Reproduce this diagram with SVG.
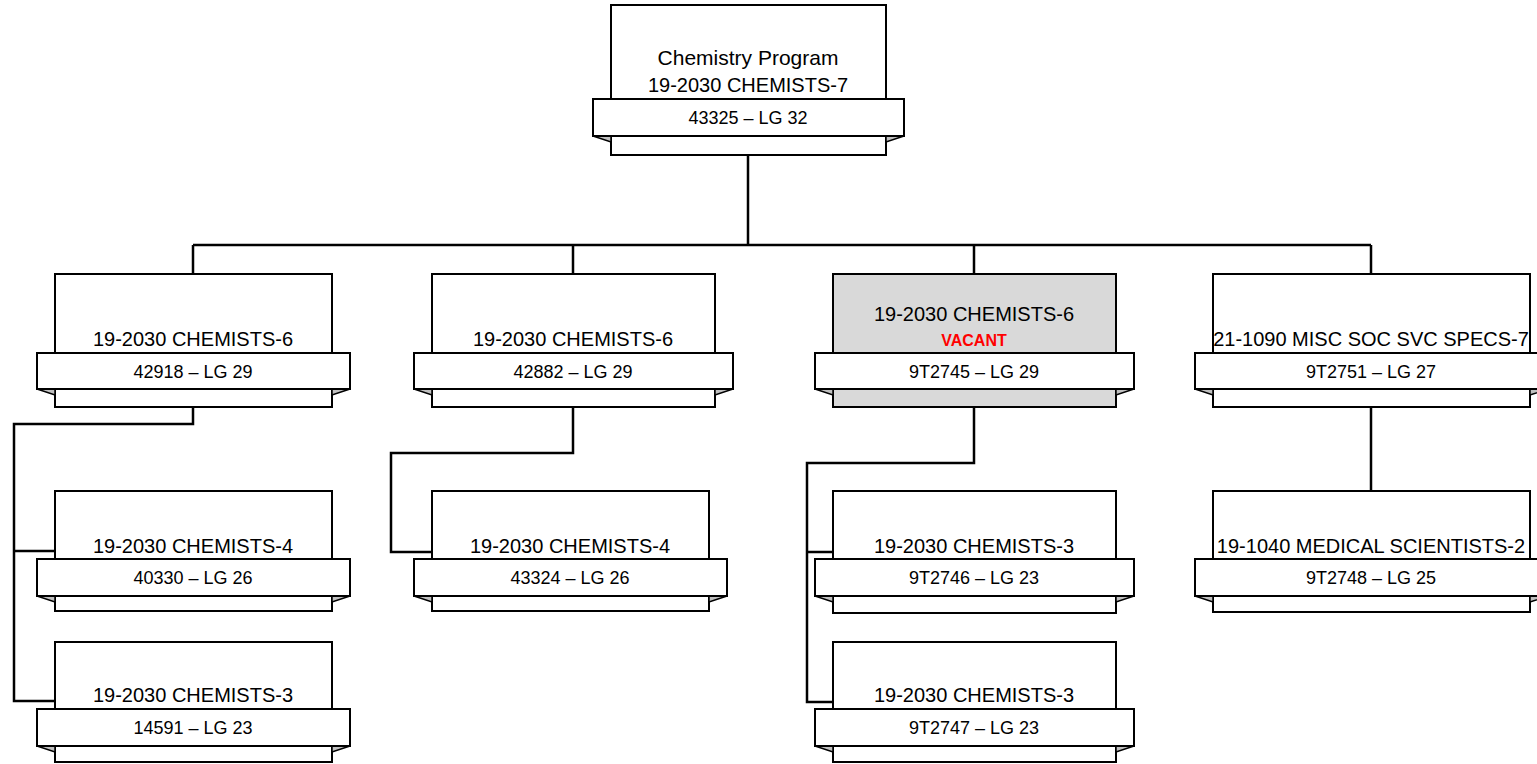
<svg xmlns="http://www.w3.org/2000/svg" width="1537" height="764" viewBox="0 0 1537 764">
<style>
.box{fill:#fff;stroke:#000;stroke-width:2}
.vac{fill:#d9d9d9;stroke:#000;stroke-width:2}
.band{fill:#fff;stroke:#000;stroke-width:2}
.fold{fill:#c0c0c0;stroke:#000;stroke-width:1.5;stroke-linejoin:miter}
.t{font-family:"Liberation Sans",Arial,sans-serif;font-size:20px;fill:#000;text-anchor:middle}
.b{font-family:"Liberation Sans",Arial,sans-serif;font-size:18px;fill:#000;text-anchor:middle}
.v{font-family:"Liberation Sans",Arial,sans-serif;font-size:16px;font-weight:bold;fill:#ff0000;text-anchor:middle}
.c{fill:none;stroke:#000;stroke-width:2.5;stroke-linejoin:miter}
</style>
<rect width="1537" height="764" fill="#fff"/>
<g id="connectors">
<path class="c" d="M748 155V245M193 245H1371M193 245V274M573 245V274M974 245V274M1371 245V274"/>
<path class="c" d="M193 407V424H14V701H55M14 551H55"/>
<path class="c" d="M573 407V453H391V552H432"/>
<path class="c" d="M974 407V463H807V702H833M807 552H833"/>
<path class="c" d="M1371 407V491"/>
</g>
<g id="n0">
<rect class="box" x="611" y="5" width="275" height="150"/>
<path class="fold" d="M593 136L611 136L611 142Z"/>
<path class="fold" d="M904 136L886 136L886 142Z"/>
<rect class="band" x="593" y="99" width="311" height="37"/>
<text class="t" x="748" y="65" style="font-size:21px">Chemistry Program</text>
<text class="t" x="748" y="92">19-2030 CHEMISTS-7</text>
<text class="b" x="748" y="124">43325 – LG 32</text>
</g>
<g id="n1">
<rect class="box" x="55" y="274" width="277" height="133"/>
<path class="fold" d="M37 389L55 389L55 395Z"/>
<path class="fold" d="M350 389L332 389L332 395Z"/>
<rect class="band" x="37" y="353" width="313" height="36"/>
<text class="t" x="193" y="346">19-2030 CHEMISTS-6</text>
<text class="b" x="193" y="378">42918 – LG 29</text>
</g>
<g id="n2">
<rect class="box" x="432" y="274" width="283" height="133"/>
<path class="fold" d="M414 389L432 389L432 395Z"/>
<path class="fold" d="M733 389L715 389L715 395Z"/>
<rect class="band" x="414" y="353" width="319" height="36"/>
<text class="t" x="573" y="346">19-2030 CHEMISTS-6</text>
<text class="b" x="573" y="378">42882 – LG 29</text>
</g>
<g id="n3">
<rect class="vac" x="833" y="274" width="283" height="133"/>
<path class="fold" d="M815 389L833 389L833 395Z"/>
<path class="fold" d="M1134 389L1116 389L1116 395Z"/>
<rect class="band" x="815" y="353" width="319" height="36"/>
<text class="t" x="974" y="321">19-2030 CHEMISTS-6</text>
<text class="v" x="974" y="346">VACANT</text>
<text class="b" x="974" y="378">9T2745 – LG 29</text>
</g>
<g id="n4">
<rect class="box" x="1213" y="274" width="317" height="133"/>
<path class="fold" d="M1195 389L1213 389L1213 395Z"/>
<path class="fold" d="M1548 389L1530 389L1530 395Z"/>
<rect class="band" x="1195" y="353" width="353" height="36"/>
<text class="t" x="1371" y="346">21-1090 MISC SOC SVC SPECS-7</text>
<text class="b" x="1371" y="378">9T2751 – LG 27</text>
</g>
<g id="n1a">
<rect class="box" x="55" y="491" width="277" height="120"/>
<path class="fold" d="M37 596L55 596L55 602Z"/>
<path class="fold" d="M350 596L332 596L332 602Z"/>
<rect class="band" x="37" y="559" width="313" height="37"/>
<text class="t" x="193" y="553">19-2030 CHEMISTS-4</text>
<text class="b" x="193" y="584">40330 – LG 26</text>
</g>
<g id="n1b">
<rect class="box" x="55" y="642" width="277" height="120"/>
<path class="fold" d="M37 746L55 746L55 752Z"/>
<path class="fold" d="M350 746L332 746L332 752Z"/>
<rect class="band" x="37" y="709" width="313" height="37"/>
<text class="t" x="193" y="702">19-2030 CHEMISTS-3</text>
<text class="b" x="193" y="734">14591 – LG 23</text>
</g>
<g id="n2a">
<rect class="box" x="432" y="491" width="277" height="120"/>
<path class="fold" d="M414 596L432 596L432 602Z"/>
<path class="fold" d="M727 596L709 596L709 602Z"/>
<rect class="band" x="414" y="559" width="313" height="37"/>
<text class="t" x="570" y="553">19-2030 CHEMISTS-4</text>
<text class="b" x="570" y="584">43324 – LG 26</text>
</g>
<g id="n3a">
<rect class="box" x="833" y="491" width="283" height="122"/>
<path class="fold" d="M815 596L833 596L833 602Z"/>
<path class="fold" d="M1134 596L1116 596L1116 602Z"/>
<rect class="band" x="815" y="559" width="319" height="37"/>
<text class="t" x="974" y="553">19-2030 CHEMISTS-3</text>
<text class="b" x="974" y="584">9T2746 – LG 23</text>
</g>
<g id="n3b">
<rect class="box" x="833" y="642" width="283" height="120"/>
<path class="fold" d="M815 746L833 746L833 752Z"/>
<path class="fold" d="M1134 746L1116 746L1116 752Z"/>
<rect class="band" x="815" y="709" width="319" height="37"/>
<text class="t" x="974" y="702">19-2030 CHEMISTS-3</text>
<text class="b" x="974" y="734">9T2747 – LG 23</text>
</g>
<g id="n4a">
<rect class="box" x="1213" y="491" width="317" height="121"/>
<path class="fold" d="M1195 596L1213 596L1213 602Z"/>
<path class="fold" d="M1548 596L1530 596L1530 602Z"/>
<rect class="band" x="1195" y="559" width="353" height="37"/>
<text class="t" x="1371" y="553">19-1040 MEDICAL SCIENTISTS-2</text>
<text class="b" x="1371" y="584">9T2748 – LG 25</text>
</g>
</svg>
